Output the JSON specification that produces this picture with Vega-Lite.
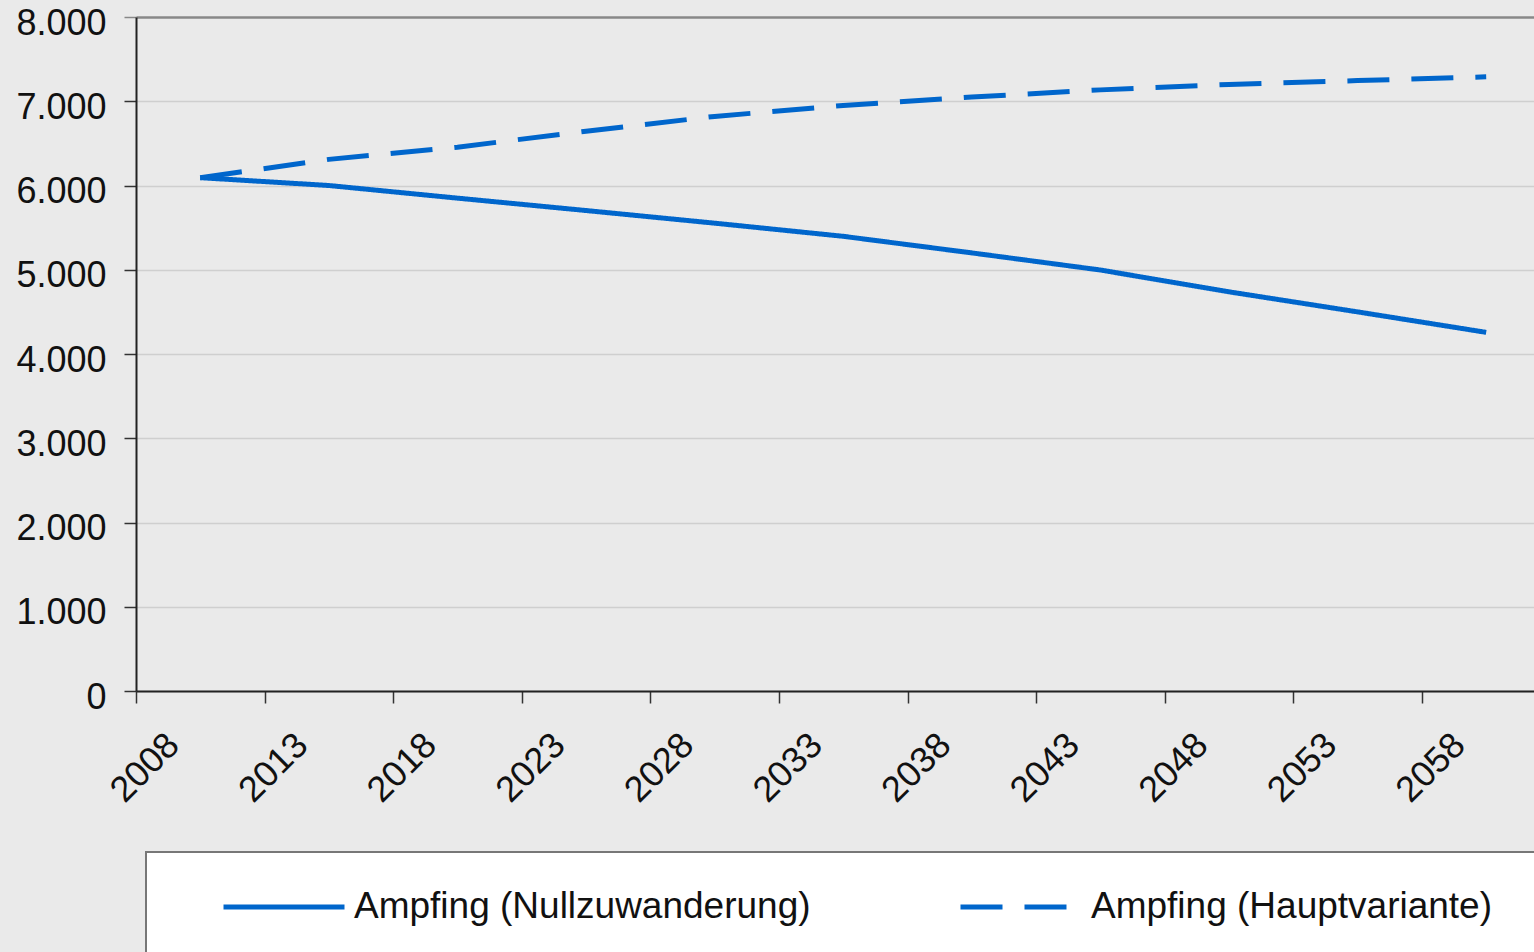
{
  "$schema": "https://vega.github.io/schema/vega-lite/v6.json",
  "width": 1398,
  "height": 674,
  "autosize": {"type": "none"},
  "padding": {"left": 136, "top": 17, "right": 0, "bottom": 261},
  "background": "#eaeaea",
  "config": {"view": {"stroke": null}, "font": "Liberation Sans"},
  "data": {
    "values": [
      {"series": "Ampfing (Nullzuwanderung)", "date": "2010-07-01", "value": 6093},
      {"series": "Ampfing (Nullzuwanderung)", "date": "2015-07-01", "value": 6000},
      {"series": "Ampfing (Nullzuwanderung)", "date": "2020-07-01", "value": 5850},
      {"series": "Ampfing (Nullzuwanderung)", "date": "2025-07-01", "value": 5703},
      {"series": "Ampfing (Nullzuwanderung)", "date": "2030-07-01", "value": 5553},
      {"series": "Ampfing (Nullzuwanderung)", "date": "2035-07-01", "value": 5397},
      {"series": "Ampfing (Nullzuwanderung)", "date": "2040-07-01", "value": 5200},
      {"series": "Ampfing (Nullzuwanderung)", "date": "2045-07-01", "value": 4997},
      {"series": "Ampfing (Nullzuwanderung)", "date": "2050-07-01", "value": 4738},
      {"series": "Ampfing (Nullzuwanderung)", "date": "2055-07-01", "value": 4500},
      {"series": "Ampfing (Nullzuwanderung)", "date": "2060-07-01", "value": 4257},
      {"series": "Ampfing (Hauptvariante)", "date": "2010-07-01", "value": 6093},
      {"series": "Ampfing (Hauptvariante)", "date": "2015-07-01", "value": 6310},
      {"series": "Ampfing (Hauptvariante)", "date": "2020-07-01", "value": 6455},
      {"series": "Ampfing (Hauptvariante)", "date": "2025-07-01", "value": 6645},
      {"series": "Ampfing (Hauptvariante)", "date": "2030-07-01", "value": 6820},
      {"series": "Ampfing (Hauptvariante)", "date": "2035-07-01", "value": 6950},
      {"series": "Ampfing (Hauptvariante)", "date": "2040-07-01", "value": 7050},
      {"series": "Ampfing (Hauptvariante)", "date": "2045-07-01", "value": 7135},
      {"series": "Ampfing (Hauptvariante)", "date": "2050-07-01", "value": 7200},
      {"series": "Ampfing (Hauptvariante)", "date": "2055-07-01", "value": 7245},
      {"series": "Ampfing (Hauptvariante)", "date": "2060-07-01", "value": 7290}
    ]
  },
  "mark": {"type": "line", "strokeWidth": 5, "color": "#0066cc", "strokeCap": "butt"},
  "encoding": {
    "x": {
      "field": "date",
      "type": "temporal",
      "scale": {
        "type": "utc",
        "domain": [
          {"year": 2008, "month": 1, "date": 1, "utc": true},
          {"year": 2062, "month": 5, "date": 11, "utc": true}
        ]
      },
      "axis": {
        "title": null,
        "grid": false,
        "values": [
          {"year": 2008, "month": 1, "date": 1, "utc": true},
          {"year": 2013, "month": 1, "date": 1, "utc": true},
          {"year": 2018, "month": 1, "date": 1, "utc": true},
          {"year": 2023, "month": 1, "date": 1, "utc": true},
          {"year": 2028, "month": 1, "date": 1, "utc": true},
          {"year": 2033, "month": 1, "date": 1, "utc": true},
          {"year": 2038, "month": 1, "date": 1, "utc": true},
          {"year": 2043, "month": 1, "date": 1, "utc": true},
          {"year": 2048, "month": 1, "date": 1, "utc": true},
          {"year": 2053, "month": 1, "date": 1, "utc": true},
          {"year": 2058, "month": 1, "date": 1, "utc": true}
        ],
        "labelExpr": "utcFormat(datum.value, '%Y')",
        "labelAngle": -45,
        "labelAlign": "right",
        "labelBaseline": "middle",
        "labelFontSize": 36,
        "labelColor": "#111111",
        "labelPadding": 36,
        "labelOffset": 37,
        "labelFlush": false,
        "labelOverlap": false,
        "tickSize": 12,
        "tickWidth": 1.5,
        "tickColor": "#333333",
        "domainColor": "#222222",
        "domainWidth": 2
      }
    },
    "y": {
      "field": "value",
      "type": "quantitative",
      "scale": {"domain": [0, 8000]},
      "axis": {
        "title": null,
        "values": [0, 1000, 2000, 3000, 4000, 5000, 6000, 7000, 8000],
        "labelExpr": "replace(format(datum.value, ','), ',', '.')",
        "labelFontSize": 36,
        "labelColor": "#111111",
        "labelPadding": 18,
        "labelOffset": 6,
        "tickSize": 12,
        "tickWidth": 1.5,
        "tickColor": {"condition": {"test": "datum.value == 8000", "value": "#888888"}, "value": "#333333"},
        "domainColor": "#222222",
        "domainWidth": 2,
        "gridColor": {"condition": {"test": "datum.value == 8000", "value": "#888888"}, "value": "#cfcfcf"},
        "gridWidth": {"condition": {"test": "datum.value == 8000", "value": 2.5}, "value": 1.5}
      }
    },
    "strokeDash": {
      "field": "series",
      "type": "nominal",
      "scale": {
        "domain": ["Ampfing (Nullzuwanderung)", "Ampfing (Hauptvariante)"],
        "range": [[1, 0], [42, 22]]
      },
      "legend": {
        "title": " ",
        "titleOrient": "right",
        "titleFontSize": 10,
        "titlePadding": 30,
        "orient": "none",
        "legendX": 10,
        "legendY": 835,
        "direction": "horizontal",
        "columns": 2,
        "gridAlign": "all",
        "fillColor": "#ffffff",
        "strokeColor": "#777777",
        "padding": 30,
        "symbolType": "stroke",
        "symbolSize": 14641,
        "symbolStrokeWidth": 5,
        "symbolStrokeColor": "#0066cc",
        "symbolOffset": 45,
        "clipHeight": 50,
        "labelFontSize": 37,
        "labelColor": "#111111",
        "labelOffset": 7,
        "labelLimit": 0,
        "columnPadding": 102,
        "encode": {"legend": {"update": {"strokeWidth": {"value": 2}}}}
      }
    }
  }
}
